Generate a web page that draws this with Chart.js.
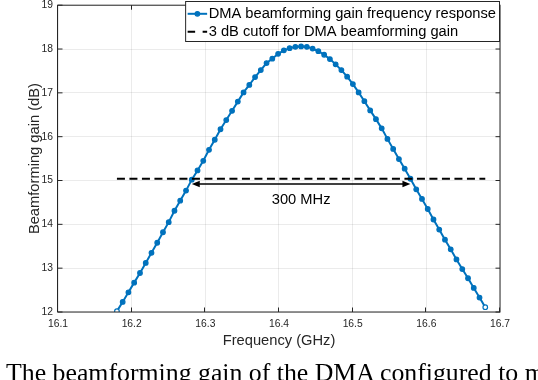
<!DOCTYPE html>
<html>
<head>
<meta charset="utf-8">
<script src="https://cdn.jsdelivr.net/npm/chart.js@4.4.0/dist/chart.umd.min.js"></script>
<style>
    html, body { margin: 0; padding: 0; background: #fff; }
    #wrap { position: relative; width: 538px; height: 380px; overflow: hidden; }
    #caption {
        position: absolute; left: 6px; top: 359.5px;
        font: 25.8px "Liberation Serif", "Times New Roman", serif;
        line-height: 25.8px; white-space: nowrap; color: #000;
    }
</style>
</head>
<body>
<div id="wrap">
    <canvas id="chart" width="538" height="380"></canvas>
    <div id="caption">The beamforming gain of the DMA configured to m</div>
</div>
<script>
/* global Chart */

// frequency sweep (GHz) and beamforming gain (dB)
const FREQ = [
    16.1800, 16.1878, 16.1956, 16.2034, 16.2113, 16.2191, 16.2269, 16.2347, 16.2425, 16.2503,
    16.2581, 16.2659, 16.2738, 16.2816, 16.2894, 16.2972, 16.3050, 16.3128, 16.3206, 16.3284,
    16.3363, 16.3441, 16.3519, 16.3597, 16.3675, 16.3753, 16.3831, 16.3909, 16.3988, 16.4066,
    16.4144, 16.4222, 16.4300, 16.4378, 16.4456, 16.4534, 16.4613, 16.4691, 16.4769, 16.4847,
    16.4925, 16.5003, 16.5081, 16.5159, 16.5238, 16.5316, 16.5394, 16.5472, 16.5550, 16.5628,
    16.5706, 16.5784, 16.5863, 16.5941, 16.6019, 16.6097, 16.6175, 16.6253, 16.6331, 16.6409,
    16.6488, 16.6566, 16.6644, 16.6722, 16.6800
];
const GAIN = [
    12.02, 12.23, 12.45, 12.67, 12.89, 13.12, 13.35, 13.58, 13.82, 14.05,
    14.31, 14.54, 14.77, 15.02, 15.23, 15.45, 15.70, 15.93, 16.17, 16.38,
    16.59, 16.80, 17.01, 17.18, 17.36, 17.52, 17.68, 17.78, 17.89, 17.97,
    18.02, 18.05, 18.06, 18.05, 18.01, 17.95, 17.87, 17.77, 17.65, 17.52,
    17.37, 17.20, 17.01, 16.81, 16.60, 16.40, 16.19, 15.95, 15.72, 15.49,
    15.27, 15.04, 14.80, 14.58, 14.35, 14.11, 13.88, 13.65, 13.43, 13.20,
    12.98, 12.77, 12.55, 12.33, 12.11
];

// -3 dB cutoff line
const CUTOFF_FREQ = [16.18, 16.68];
const CUTOFF_GAIN = [15.04, 15.04];

// bandwidth arrow + its label
const BW_FREQ = [16.2816, 16.5784];
const BW_GAIN = 14.92;
const BW_LABEL = '300 MHz';
const BW_LABEL_FREQ = 16.43;
const BW_LABEL_GAIN = 14.56;

const X_TICKS = [16.1, 16.2, 16.3, 16.4, 16.5, 16.6, 16.7];
const Y_TICKS = [12, 13, 14, 15, 16, 17, 18, 19];

const SERIES_LABELS = [
    'DMA beamforming gain frequency response',
    '3 dB cutoff for DMA beamforming gain'
];
const X_TITLE = 'Frequency (GHz)';
const Y_TITLE = 'Beamforming gain (dB)';

const BLUE = '#0072BD';
const AXIS = '#262626';
const FONT = '"Liberation Sans", Arial, Helvetica, sans-serif';
const TEXT_SIZE = 14.7;

const decorations = {
    id: 'decorations',
    afterDatasetsDraw(chart) {
        const { ctx, scales: { x, y } } = chart;
        // double arrow
        const x0 = x.getPixelForValue(BW_FREQ[0]);
        const x1 = x.getPixelForValue(BW_FREQ[1]);
        const ya = y.getPixelForValue(BW_GAIN);
        ctx.save();
        ctx.strokeStyle = '#000';
        ctx.fillStyle = '#000';
        ctx.lineWidth = 1.5;
        ctx.beginPath();
        ctx.moveTo(x0 + 4, ya);
        ctx.lineTo(x1 - 4, ya);
        ctx.stroke();
        const head = (tip, dir) => {
            ctx.beginPath();
            ctx.moveTo(tip, ya);
            ctx.lineTo(tip + dir * 8, ya - 3.2);
            ctx.lineTo(tip + dir * 8, ya + 3.2);
            ctx.closePath();
            ctx.fill();
        };
        head(x0, 1);
        head(x1, -1);

        ctx.font = `${TEXT_SIZE}px ${FONT}`;
        ctx.textAlign = 'center';
        ctx.textBaseline = 'middle';
        ctx.fillText(BW_LABEL, x.getPixelForValue(BW_LABEL_FREQ), y.getPixelForValue(BW_LABEL_GAIN));
        ctx.restore();
    },
    afterDraw(chart) {
        const { ctx, chartArea: a, scales: { x, y } } = chart;
        ctx.save();
        // box + inward ticks
        ctx.strokeStyle = AXIS;
        ctx.lineWidth = 1;
        ctx.strokeRect(a.left - 0.5, a.top, a.right - a.left + 0.5, a.bottom - a.top);
        ctx.beginPath();
        for (const v of X_TICKS) {
            const px = Math.round(x.getPixelForValue(v)) - 0.5;
            ctx.moveTo(px, a.bottom); ctx.lineTo(px, a.bottom - 4.5);
            ctx.moveTo(px, a.top); ctx.lineTo(px, a.top + 4.5);
        }
        for (const v of Y_TICKS) {
            const py = y.getPixelForValue(v);
            ctx.moveTo(a.left, py); ctx.lineTo(a.left + 4.5, py);
            ctx.moveTo(a.right, py); ctx.lineTo(a.right - 4.5, py);
        }
        ctx.stroke();

        // legend
        ctx.font = `${TEXT_SIZE}px ${FONT}`;
        const textW = Math.max(...SERIES_LABELS.map(t => ctx.measureText(t).width));
        const boxW = 23 + textW + 3.5;
        const boxR = a.right - 0.5;
        const boxL = boxR - boxW;
        const boxT = 1.5, boxH = 40;
        ctx.fillStyle = '#fff';
        ctx.fillRect(boxL, boxT, boxW, boxH);
        ctx.strokeStyle = AXIS;
        ctx.lineWidth = 1;
        ctx.strokeRect(boxL, boxT, boxW, boxH);

        const sx0 = boxL + 2, sx1 = boxL + 21.5;
        const rows = [boxT + 12.3, boxT + 30.2];
        ctx.strokeStyle = BLUE;
        ctx.fillStyle = BLUE;
        ctx.lineWidth = 2;
        ctx.beginPath();
        ctx.moveTo(sx0, rows[0]); ctx.lineTo(sx1, rows[0]);
        ctx.stroke();
        ctx.lineWidth = 1.2;
        ctx.beginPath();
        ctx.arc((sx0 + sx1) / 2, rows[0], 2.3, 0, Math.PI * 2);
        ctx.fill();
        ctx.stroke();

        ctx.strokeStyle = '#000';
        ctx.lineWidth = 2;
        ctx.setLineDash([7.5, 7.5]);
        ctx.beginPath();
        ctx.moveTo(sx0, rows[1]); ctx.lineTo(sx1, rows[1]);
        ctx.stroke();
        ctx.setLineDash([]);

        ctx.fillStyle = '#000';
        ctx.textAlign = 'left';
        ctx.textBaseline = 'middle';
        SERIES_LABELS.forEach((t, i) => ctx.fillText(t, boxL + 23, rows[i]));
        ctx.restore();
    }
};

const isEnd = c => c.dataIndex === 0 || c.dataIndex === FREQ.length - 1;

new Chart(document.getElementById('chart'), {
    type: 'line',
    data: {
        datasets: [
            {
                label: SERIES_LABELS[0],
                data: FREQ.map((f, i) => ({ x: f, y: GAIN[i] })),
                borderColor: BLUE,
                borderWidth: 2,
                pointRadius: 2.3,
                pointBorderWidth: 1.2,
                pointBorderColor: BLUE,
                pointBackgroundColor: c => isEnd(c) ? '#fff' : BLUE,
                tension: 0,
                order: 1
            },
            {
                label: SERIES_LABELS[1],
                data: CUTOFF_FREQ.map((f, i) => ({ x: f, y: CUTOFF_GAIN[i] })),
                borderColor: '#000',
                borderWidth: 2,
                borderDash: [8, 4.5],
                pointRadius: 0,
                order: 0
            }
        ]
    },
    options: {
        responsive: false,
        animation: false,
        devicePixelRatio: 1,
        layout: { padding: { left: 0, right: 38, top: 0, bottom: 0 } },
        plugins: { legend: { display: false }, tooltip: { enabled: false } },
        scales: {
            x: {
                type: 'linear',
                min: 16.1,
                max: 16.7,
                afterBuildTicks: s => { s.ticks = X_TICKS.map(v => ({ value: v })); },
                afterFit: s => { s.height = 68; s.paddingLeft = 0; s.paddingRight = 0; },
                ticks: {
                    padding: 6,
                    color: AXIS,
                    font: { family: FONT, size: 10.3 },
                    maxRotation: 0,
                    callback: v => v.toFixed(1)
                },
                grid: { color: 'rgba(0,0,0,0.08)', drawTicks: false },
                border: { display: false },
                title: {
                    display: true,
                    text: X_TITLE,
                    color: AXIS,
                    font: { family: FONT, size: TEXT_SIZE },
                    padding: { top: 0, bottom: 30.7 }
                }
            },
            y: {
                min: 12,
                max: 19,
                afterBuildTicks: s => { s.ticks = Y_TICKS.map(v => ({ value: v })); },
                afterFit: s => { s.width = 58; s.paddingTop = 4; s.paddingBottom = 0; },
                ticks: {
                    padding: 5,
                    color: AXIS,
                    font: { family: FONT, size: 10.3 }
                },
                grid: { color: 'rgba(0,0,0,0.08)', drawTicks: false },
                border: { display: false },
                title: {
                    display: true,
                    text: Y_TITLE,
                    color: AXIS,
                    font: { family: FONT, size: TEXT_SIZE },
                    padding: { top: 25.7, bottom: 0 }
                }
            }
        }
    },
    plugins: [decorations]
});
</script>
</body>
</html>
